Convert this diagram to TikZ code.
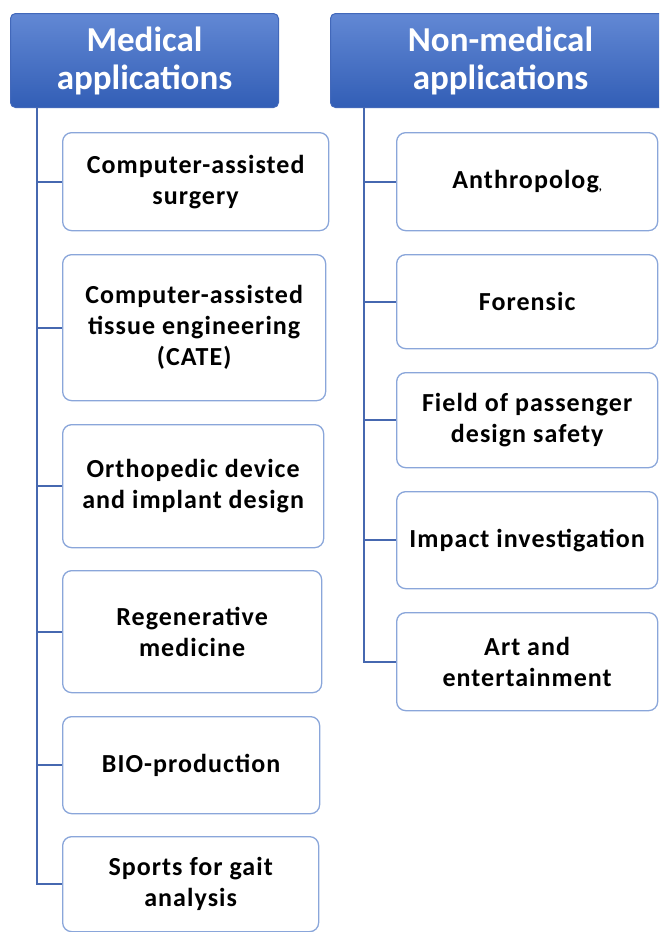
\documentclass[tikz,border=0pt]{standalone}
\usepackage{fontspec}
\setmainfont{Carlito}
\newfontfamily\leaffont{Carlito}[LetterSpace=4]
\usetikzlibrary{positioning}

\definecolor{hdrtop}{RGB}{98,136,212}
\definecolor{hdrbot}{RGB}{50,94,182}
\definecolor{hdrline}{RGB}{66,104,186}
\definecolor{boxline}{RGB}{138,166,218}
\definecolor{trunkblue}{RGB}{70,104,176}

\tikzset{
  header/.style={rounded corners=5pt, draw=hdrline, line width=1pt, top color=hdrtop, bottom color=hdrbot,
    text=white, font=\fontsize{35}{38}\selectfont\bfseries, align=center, inner sep=0pt,
    anchor=north west, minimum height=94pt},
  leaf/.style={rounded corners=9pt, draw=boxline, line width=1.3pt, fill=white,
    font=\leaffont\fontsize{26}{31}\selectfont\bfseries, align=center, inner sep=0pt, anchor=north west},
  branch/.style={draw=trunkblue, line width=2pt},
}

\begin{document}
\begin{tikzpicture}[x=1pt, y=-1pt]
    \useasboundingbox (0,0) rectangle (659,932);
    \clip (0,0) rectangle (659,932);

    % headers
    \node[header, minimum width=268pt] (med) at (10,13) {Medical\\applications};
    \node[header, minimum width=340pt] (nonmed) at (330,13) {Non-medical\\applications};

    \coordinate (medroot) at (37,107);
    \coordinate (nonroot) at (364,107);

    % medical side
    \node[leaf, minimum width=266pt, minimum height=98pt] (surgery) at (62,132) {Computer-assisted\\surgery};
    \node[leaf, minimum width=263pt, minimum height=146pt] (cate) at (62,254) {Computer-assisted\\tissue engineering\\(CATE)};
    \node[leaf, minimum width=261pt, minimum height=123pt] (ortho) at (62,424) {Orthopedic device\\and implant design};
    \node[leaf, minimum width=259pt, minimum height=122pt] (regen) at (62,570) {Regenerative\\medicine};
    \node[leaf, minimum width=257pt, minimum height=97pt] (bio) at (62,716) {BIO-production};
    \node[leaf, minimum width=256pt, minimum height=95pt] (gait) at (62,836) {Sports for gait\\analysis};

    % non-medical side
    \node[leaf, minimum width=261pt, minimum height=98pt] (anthro) at (396,132) {Anthropolog\raisebox{-2pt}{\fontsize{12}{12}\selectfont ,}};
    \node[leaf, minimum width=261pt, minimum height=94pt] (forensic) at (396,254) {Forensic};
    \node[leaf, minimum width=261pt, minimum height=95pt] (safety) at (396,372) {Field of passenger\\design safety};
    \node[leaf, minimum width=261pt, minimum height=97pt] (impact) at (396,491) {Impact investigation};
    \node[leaf, minimum width=261pt, minimum height=98pt] (art) at (396,612) {Art and\\entertainment};

    \foreach \leafname in {surgery, cate, ortho, regen, bio, gait}
        \draw[branch] (medroot) |- (\leafname.west);
    \foreach \leafname in {anthro, forensic, safety, impact, art}
        \draw[branch] (nonroot) |- (\leafname.west);
\end{tikzpicture}
\end{document}
